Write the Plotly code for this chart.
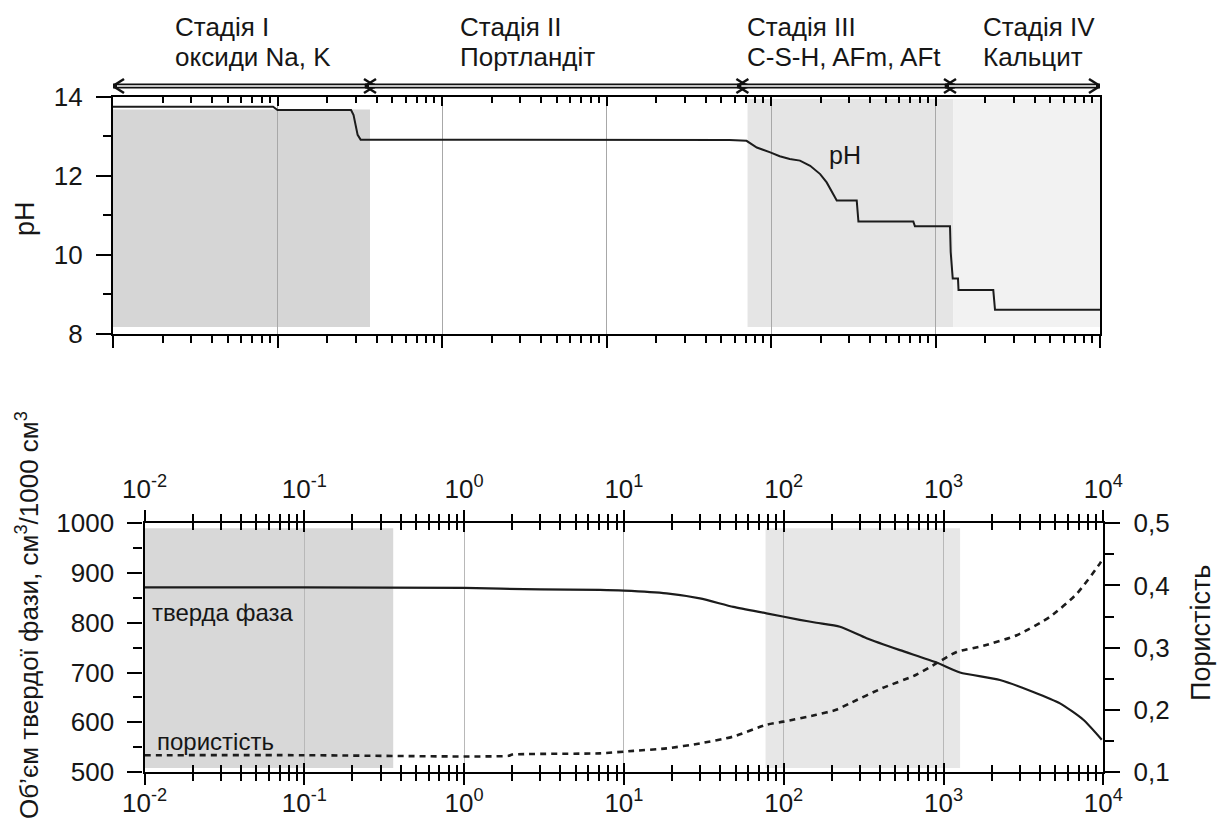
import numpy as np
import plotly.graph_objects as go

# ---------------- data ----------------
ph_time = [0.01, 0.094, 0.1, 0.28, 0.29, 0.298, 0.307, 0.32, 56, 71, 82, 99, 113, 130,
           150, 173, 199, 218, 234, 251, 332, 340, 733, 750, 1225, 1237, 1273, 1370,
           1380, 2245, 2300, 10000]
ph_value = [13.74, 13.74, 13.66, 13.66, 13.53, 13.28, 13.03, 12.91, 12.90, 12.88, 12.71, 12.59,
            12.49, 12.42, 12.38, 12.25, 12.04, 11.83, 11.58, 11.37, 11.37, 10.84, 10.84, 10.72,
            10.72, 10.07, 9.40, 9.40, 9.11, 9.11, 8.61, 8.61]

solid_time = [0.01, 0.1, 1, 3, 7.08, 10, 18.5, 29.9, 48.4, 78, 126, 160, 225, 330, 534, 905,
              1268, 2254, 3645, 5356, 7500, 9780]
solid_volume = [871, 871, 870, 867, 866, 864.5, 859, 849, 832, 819, 806, 800, 792, 769, 745, 720,
                700, 685, 661, 638, 605, 565]

por_time = [0.01, 0.1, 1, 1.9, 2.0, 7.08, 11.5, 18.5, 29.9, 48.4, 78, 99.6, 160, 213, 257, 415,
            670, 905, 1208, 1778, 2877, 4660, 6840, 9560, 10000]
porosity = [0.127, 0.127, 0.125, 0.126, 0.128, 0.130, 0.134, 0.138, 0.146, 0.157, 0.176, 0.181,
            0.192, 0.200, 0.210, 0.235, 0.256, 0.275, 0.293, 0.303, 0.320, 0.350, 0.387, 0.436,
            0.445]

decade_vals = [0.01, 0.1, 1, 10, 100, 1000, 10000]
decade_text = ["10<sup>-2</sup>", "10<sup>-1</sup>", "10<sup>0</sup>", "10<sup>1</sup>",
               "10<sup>2</sup>", "10<sup>3</sup>", "10<sup>4</sup>"]
ph_ticks = [8, 10, 12, 14]
volume_ticks = [500, 600, 700, 800, 900, 1000]
por_ticks = [0.1, 0.2, 0.3, 0.4, 0.5]
por_tick_text = ["0,1", "0,2", "0,3", "0,4", "0,5"]

stage_names = ["Стадія I", "Стадія II", "Стадія III", "Стадія IV"]
stage_phases = ["оксиди Na, K", "Портландіт", "C-S-H, AFm, AFt", "Кальцит"]
stage_edges = [0.01, 0.365, 67, 1225, 10000]          # arrow boundaries (time)
shade_top = [(0.01, 0.365), (72, 1280), (1280, 10000)]
shade_bottom = [(0.01, 0.36), (77, 1270)]

# ---------------- styling / layout helpers ----------------
W, H = 1217, 829
FONT = "Liberation Sans, Arial, sans-serif"
TXT = "#161616"
GRID = "#a8a8a8"


def px(x):
    return x / W


def py(y):
    return 1 - y / H


minor_vals = [k * d for d in decade_vals[:-1] for k in range(2, 10)]

top_xd = [px(113), px(1100)]
top_yd = [py(334), py(96.5)]
bot_xd = [px(144.5), px(1103.3)]
bot_yd = [py(772), py(523.3)]

fig = go.Figure()

fig.add_trace(go.Scatter(x=ph_time, y=ph_value, xaxis="x", yaxis="y", mode="lines",
                         line=dict(color="#1c1c1c", width=2), showlegend=False, hoverinfo="skip"))
fig.add_trace(go.Scatter(x=solid_time, y=solid_volume, xaxis="x2", yaxis="y2", mode="lines",
                         line=dict(color="#1c1c1c", width=2.2, shape="spline", smoothing=0.6),
                         showlegend=False, hoverinfo="skip"))
fig.add_trace(go.Scatter(x=por_time, y=porosity, xaxis="x2", yaxis="y3", mode="lines",
                         line=dict(color="#1c1c1c", width=2.6, dash="6px,5px", shape="spline",
                                   smoothing=0.6),
                         showlegend=False, hoverinfo="skip"))
# empty helpers so the overlaying tick axes are drawn
for xa, ya in [("x3", "y"), ("x4", "y2"), ("x5", "y2")]:
    fig.add_trace(go.Scatter(x=[decade_vals[0], decade_vals[-1]], y=[None, None], xaxis=xa,
                             yaxis=ya, mode="lines", showlegend=False, hoverinfo="skip"))

TICK_SIZE = 26
tickfont = dict(family=FONT, size=TICK_SIZE, color=TXT)
LW = 2.2


def log_axis(**kw):
    d = dict(type="log", range=[-2, 4], showline=True, linecolor="black", linewidth=LW,
             tickvals=decade_vals, tickcolor="black", tickwidth=2, zeroline=False,
             showgrid=False, automargin=False, tickfont=tickfont)
    d.update(kw)
    return d


layout = dict(
    width=W, height=H, margin=dict(l=0, r=0, t=0, b=0), template="none",
    paper_bgcolor="white", plot_bgcolor="rgba(0,0,0,0)", showlegend=False,
    font=dict(family=FONT, size=24, color=TXT),
    xaxis=log_axis(domain=top_xd, anchor="y", side="bottom", ticks="outside", ticklen=12,
                   showticklabels=False, showgrid=True, gridcolor=GRID, gridwidth=1,
                   minor=dict(tickvals=minor_vals, ticks="outside", ticklen=7, tickwidth=2,
                              tickcolor="black", showgrid=False)),
    xaxis3=log_axis(overlaying="x", anchor="y", side="top", ticks="inside", ticklen=9,
                    showticklabels=False,
                    minor=dict(tickvals=minor_vals, ticks="inside", ticklen=6, tickwidth=2,
                               tickcolor="black", showgrid=False)),
    yaxis=dict(range=[8, 14], domain=top_yd, anchor="x", showline=True, linecolor="black",
               linewidth=LW, mirror=True, ticks="outside", ticklen=15, tickwidth=2,
               tickcolor="black", tickvals=ph_ticks, tickfont=tickfont, zeroline=False,
               showgrid=False, automargin=False, ticklabelstandoff=8,
               minor=dict(dtick=1, ticks="outside", ticklen=8, tickwidth=2, tickcolor="black")),
    xaxis2=log_axis(domain=bot_xd, anchor="y2", side="bottom", ticks="outside", ticklen=11,
                    ticktext=decade_text, showgrid=True, gridcolor="#b8b8b8", gridwidth=1,
                    ticklabelstandoff=-4,
                    minor=dict(tickvals=minor_vals, ticks="outside", ticklen=7, tickwidth=2,
                               tickcolor="black", showgrid=False)),
    xaxis4=log_axis(overlaying="x2", anchor="y2", side="top", ticks="outside", ticklen=11,
                    ticktext=decade_text, ticklabelstandoff=2,
                    minor=dict(tickvals=minor_vals, ticks="outside", ticklen=7, tickwidth=2,
                               tickcolor="black", showgrid=False)),
    xaxis5=log_axis(overlaying="x2", anchor="y2", side="bottom", ticks="inside", ticklen=9,
                    mirror="ticks", showticklabels=False,
                    minor=dict(tickvals=minor_vals, ticks="inside", ticklen=7, tickwidth=2,
                               tickcolor="black", showgrid=False)),
    yaxis2=dict(range=[500, 1000], domain=bot_yd, anchor="x2", showline=True, linecolor="black",
                linewidth=LW, ticks="outside", ticklen=15, tickwidth=2, tickcolor="black",
                tickvals=volume_ticks, tickfont=tickfont, zeroline=False, showgrid=False,
                automargin=False, ticklabelstandoff=8,
                minor=dict(dtick=50, ticks="outside", ticklen=9, tickwidth=2, tickcolor="black")),
    yaxis3=dict(range=[0.1, 0.5], overlaying="y2", side="right", anchor="x2", showline=True,
                linecolor="black", linewidth=LW, ticks="outside", ticklen=15, tickwidth=2,
                tickcolor="black", tickvals=por_ticks, ticktext=por_tick_text,
                tickfont=tickfont, zeroline=False, showgrid=False, automargin=False,
                ticklabelstandoff=8,
                minor=dict(tick0=0.1, dtick=0.05, ticks="outside", ticklen=9, tickwidth=2,
                           tickcolor="black")),
)
fig.update_layout(**layout)

# ---------------- shaded stage regions (log axes take raw data values) ----------------
shapes = []
top_fill = ["#d6d6d6", "#e5e5e5", "#f2f2f2"]
top_y = [(0.03, 0.945), (0.03, 0.99), (0.03, 0.99)]
for (a, b), c, (y0, y1) in zip(shade_top, top_fill, top_y):
    shapes.append(dict(type="rect", xref="x", yref="y domain", x0=a, x1=b,
                       y0=y0, y1=y1, fillcolor=c, line=dict(width=0), layer="below"))
bot_fill = ["#d8d8d8", "#e7e7e7"]
for (a, b), c in zip(shade_bottom, bot_fill):
    shapes.append(dict(type="rect", xref="x2", yref="y2 domain", x0=a, x1=b,
                       y0=0.016, y1=0.98, fillcolor=c, line=dict(width=0), layer="below"))

# ---------------- stage arrows ----------------
ARROW_Y = (334 - 86) / 237.5        # in top y-domain units
HALF_H = 7 / 237.5
ARM = 11 / 164.5                    # chevron arm length in decades
OVER = 5 / 164.5                    # overlap of neighbouring tips (forms the X)
INNER = 4 / 164.5
last = len(stage_names) - 1
for i in range(len(stage_names)):
    a = stage_edges[i] / (10 ** OVER if i > 0 else 1)
    b = stage_edges[i + 1] * (10 ** OVER if i < last else 1)
    shapes.append(dict(type="line", xref="x", yref="y domain", x0=a, x1=b, y0=ARROW_Y,
                       y1=ARROW_Y, line=dict(color="#111", width=5)))
    shapes.append(dict(type="line", xref="x", yref="y domain", x0=a * 10 ** INNER,
                       x1=b / 10 ** INNER, y0=ARROW_Y, y1=ARROW_Y,
                       line=dict(color="white", width=1.5)))
    for tip, sgn in [(a, 1), (b, -1)]:
        for dy in (HALF_H, -HALF_H):
            shapes.append(dict(type="line", xref="x", yref="y domain", x0=tip, y0=ARROW_Y,
                               x1=tip * 10 ** (sgn * ARM), y1=ARROW_Y + dy,
                               line=dict(color="#111", width=2.5)))
fig.update_layout(shapes=shapes)

# ---------------- text ----------------
ann = []
stage_left = [173, 458, 745, 981]
for name, phase, x0 in zip(stage_names, stage_phases, stage_left):
    for txt, yy in [(name, 27), (phase, 57)]:
        ann.append(dict(x=px(x0), y=py(yy), xref="paper", yref="paper", text=txt,
                        showarrow=False, xanchor="left", yanchor="middle",
                        font=dict(family=FONT, size=26, color=TXT)))


def centered(x, y, text, size, angle=0):
    return dict(x=px(x), y=py(y), xref="paper", yref="paper", text=text, textangle=angle,
                showarrow=False, xanchor="center", yanchor="middle",
                font=dict(family=FONT, size=size, color=TXT))


ann.append(centered(25, 219, "pH", 27, -90))
ann.append(centered(27, 615, "Об’єм твердої фази, см<sup>3</sup>/1000 см<sup>3</sup>", 26, -90))
ann.append(centered(1201, 633, "Пористість", 27, -90))
ann.append(centered(845, 155, "pH", 25))
ann.append(dict(x=px(150), y=py(612), xref="paper", yref="paper", text="тверда фаза",
                showarrow=False, xanchor="left", yanchor="middle",
                font=dict(family=FONT, size=24, color=TXT)))
ann.append(dict(x=px(155), y=py(741), xref="paper", yref="paper", text="пористість",
                showarrow=False, xanchor="left", yanchor="middle",
                font=dict(family=FONT, size=24, color=TXT)))
fig.update_layout(annotations=ann)

fig.write_html("out.html", config={"displayModeBar": False},
               post_script="document.body.style.margin='0px';"
                           "document.body.style.overflow='hidden';")
